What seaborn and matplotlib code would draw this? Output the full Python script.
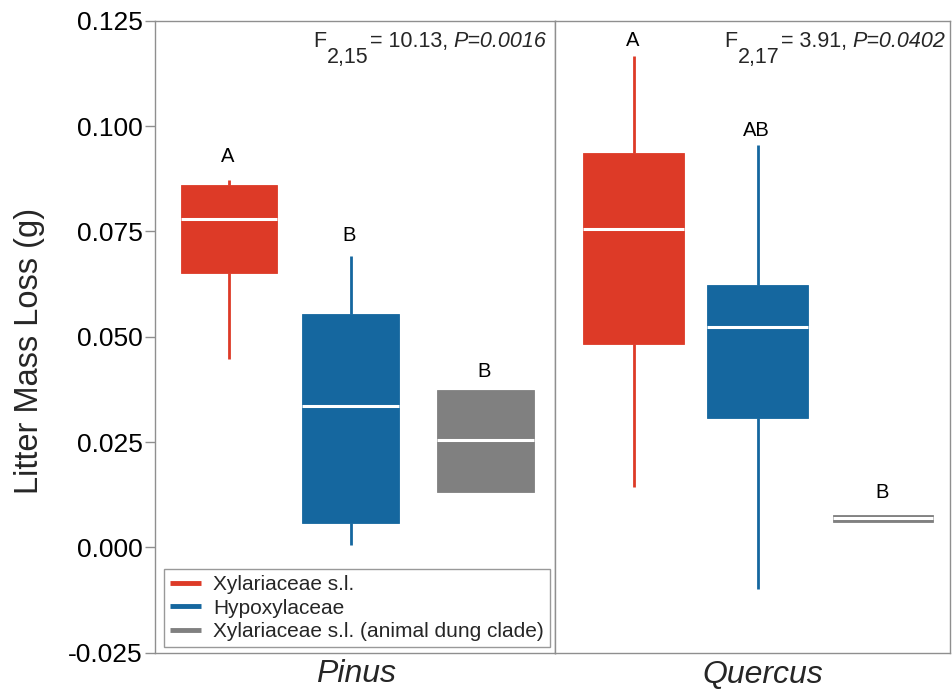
import numpy as np
import pandas as pd
import matplotlib
matplotlib.use("Agg")
import matplotlib.pyplot as plt
from matplotlib.lines import Line2D
import seaborn as sns

# ---------------- data (five-number summaries) ----------------
panels = ["Pinus", "Quercus"]
groups = ["Xylariaceae s.l.", "Hypoxylaceae", "Xylariaceae s.l. (animal dung clade)"]
# each list: [lower whisker, Q1, median, Q3, upper whisker]
pinus_xylariaceae = [0.0447, 0.0650, 0.0780, 0.0861, 0.0873]
pinus_hypoxylaceae = [0.0005, 0.0058, 0.0335, 0.0554, 0.0692]
pinus_dung_clade = [0.0131, 0.0131, 0.0254, 0.0374, 0.0374]
quercus_xylariaceae = [0.0144, 0.0483, 0.0756, 0.0937, 0.1167]
quercus_hypoxylaceae = [-0.0098, 0.0307, 0.0523, 0.0623, 0.0955]
quercus_dung_clade = [0.0061, 0.0061, 0.00695, 0.0078, 0.0078]
letters_pinus = ["A", "B", "B"]
letters_quercus = ["A", "AB", "B"]
letter_y_pinus = [0.0927, 0.0741, 0.0418]
letter_y_quercus = [0.1202, 0.0990, 0.0131]
stats_pinus = ("2,15", "10.13", "P=0.0016")
stats_quercus = ("2,17", "3.91", "P=0.0402")
yticks = [-0.025, 0.000, 0.025, 0.050, 0.075, 0.100, 0.125]

# ---------------- style ----------------
colors = ["#DD3A27", "#15679F", "#808080"]
sns.set_theme(style="white")
plt.rcParams["font.family"] = ["Liberation Sans", "DejaVu Sans"]
plt.rcParams["axes.unicode_minus"] = False

W, H = 952, 692
fig = plt.figure(figsize=(W / 100, H / 100), dpi=100)
gs = fig.add_gridspec(1, 2, left=155 / W, right=950 / W, top=1 - 20.7 / H,
                      bottom=1 - 652.7 / H, wspace=0, width_ratios=[400, 395])
ax_p = fig.add_subplot(gs[0, 0])
ax_q = fig.add_subplot(gs[0, 1], sharey=ax_p)

panel_data = {
    "Pinus": [pinus_xylariaceae, pinus_hypoxylaceae, pinus_dung_clade],
    "Quercus": [quercus_xylariaceae, quercus_hypoxylaceae, quercus_dung_clade],
}
positions = {"Pinus": [74, 195.5, 330.5], "Quercus": [78.5, 202.5, 328]}
widths = {"Pinus": [96, 97, 97], "Quercus": [101, 101, 100]}
xlims = {"Pinus": (0, 400), "Quercus": (0, 395)}

for ax, panel in zip([ax_p, ax_q], panels):
    for gi, (vals, col) in enumerate(zip(panel_data[panel], colors)):
        df = pd.DataFrame({"pos": [positions[panel][gi]] * len(vals), "value": vals})
        sns.boxplot(data=df, x="pos", y="value", native_scale=True, orient="x",
                    width=widths[panel][gi], whis=(0, 100), color=col, linecolor=col,
                    linewidth=2, saturation=1, showcaps=False, ax=ax,
                    boxprops=dict(linewidth=0.6),
                    whiskerprops=dict(linewidth=2, solid_capstyle="butt"),
                    medianprops=dict(color="white", linewidth=2.2, solid_capstyle="butt"))
    ax.set_xlim(*xlims[panel])
    ax.set_xticks([])
    ax.set_xlabel("")
    ax.set_ylabel("")
    for sp in ax.spines.values():
        sp.set_visible(True)
        sp.set_color("#8f8f8f")
        sp.set_linewidth(1.0)

ax_p.set_ylim(-0.025, 0.125)
ax_p.set_yticks(yticks)
ax_p.set_yticklabels([f"{v:.3f}" for v in yticks])
ax_p.tick_params(axis="y", which="major", left=True, length=7, width=1,
                 color="#8f8f8f", labelsize=19, pad=2, labelcolor="black")
ax_q.tick_params(axis="y", left=False, labelleft=False)

# letters above boxes
for ax, panel, letters, ly in [(ax_p, "Pinus", letters_pinus, letter_y_pinus),
                                (ax_q, "Quercus", letters_quercus, letter_y_quercus)]:
    for pos, lt, y in zip(positions[panel], letters, ly):
        ax.text(pos - 1, y, lt, ha="center", va="center", fontsize=14.5, color="black")

# F statistics
FS = 15.5
def fstat(ax, x_px, base_px, st):
    sub, fval, pval = st
    t1 = fig.text(x_px / W, 1 - base_px / H, "F", fontsize=FS, ha="left", va="baseline")
    t2 = ax.annotate(sub, xy=(1, 0), xycoords=t1, xytext=(0.5, 3.6),
                     textcoords="offset points", ha="left", va="top", fontsize=FS,
                     annotation_clip=False, clip_on=False)
    t3 = ax.annotate("= " + fval + ",", xy=(1, 0), xycoords=(t2, t1), xytext=(1, 0),
                     textcoords="offset points", ha="left", va="bottom", fontsize=FS,
                     annotation_clip=False, clip_on=False)
    ax.annotate(pval, xy=(1, 0), xycoords=(t3, t1), xytext=(4, 0),
                textcoords="offset points", ha="left", va="bottom", fontsize=FS,
                style="italic", annotation_clip=False, clip_on=False)

fstat(ax_p, 313, 47, stats_pinus)
fstat(ax_q, 724, 47, stats_quercus)

# axis labels
fig.text(30 / W, 1 - 351 / H, "Litter Mass Loss (g)", rotation=90, ha="center",
         va="center", fontsize=23.5)
fig.text(356 / W, 1 - 682 / H, panels[0], ha="center", va="baseline", fontsize=23,
         style="italic")
fig.text(763 / W, 1 - 683 / H, panels[1], ha="center", va="baseline", fontsize=23,
         style="italic")

# legend
handles = [Line2D([], [], color=c, linewidth=3.5, solid_capstyle="butt") for c in colors]
leg = ax_p.legend(handles, groups, loc="lower left", bbox_to_anchor=(164 / W, 45 / H),
                  bbox_transform=fig.transFigure, borderaxespad=0, fontsize=15,
                  handlelength=1.5, handletextpad=0.58, labelspacing=0.22,
                  borderpad=0.28, fancybox=False, framealpha=1, edgecolor="#999999")
leg.get_frame().set_linewidth(1.0)

fig.savefig("out.png", dpi=100)
